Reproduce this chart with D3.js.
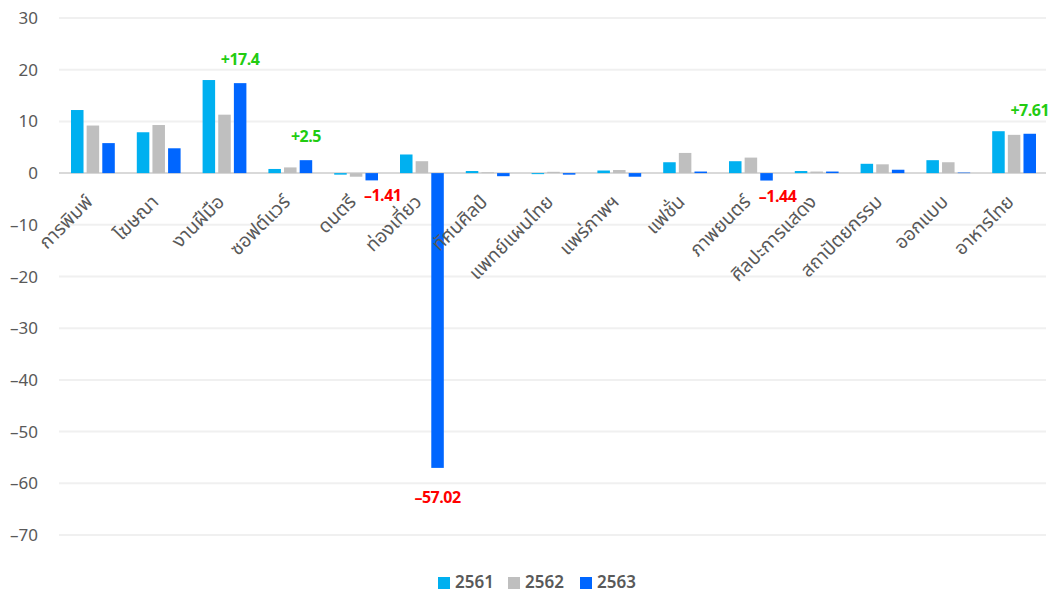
<!DOCTYPE html>
<html>
<meta charset="utf-8">
<script src="https://d3js.org/d3.v7.min.js"></script>
<head>
<style>
body { margin: 0; background: #fff; }
text { font-family: "Noto Sans Thai", "Noto Sans", "Open Sans", sans-serif; }
</style>
</head>
<body>
<div id="chart"></div>
<script>

// data
var categories = ["การพิมพ์", "โฆษณา", "งานฝีมือ", "ซอฟต์แวร์", "ดนตรี", "ท่องเที่ยว", "ทัศนศิลป์",
  "แพทย์แผนไทย", "แพร่ภาพฯ", "แฟชั่น", "ภาพยนตร์", "ศิลปะการแสดง", "สถาปัตยกรรม", "ออกแบบ", "อาหารไทย"];
var years = ["2561", "2562", "2563"];
var v2561 = [12.2, 7.9, 18.0, 0.8, -0.3, 3.6, 0.4, -0.2, 0.5, 2.1, 2.3, 0.4, 1.8, 2.5, 8.1];
var v2562 = [9.2, 9.3, 11.3, 1.1, -0.7, 2.3, 0.15, 0.25, 0.6, 3.9, 3.0, 0.3, 1.7, 2.1, 7.4];
var v2563 = [5.8, 4.8, 17.4, 2.5, -1.41, -57.02, -0.6, -0.3, -0.7, 0.3, -1.44, 0.3, 0.65, 0.1, 7.61];
var yTicks = [30, 20, 10, 0, -10, -20, -30, -40, -50, -60, -70];
// labelled values on the 2563 series
var noteIdx = [2, 3, 4, 5, 10, 14];

var series = [v2561, v2562, v2563];
var colors = ["#00b0f0", "#bfbfbf", "#0066ff"];

var width = 1052, height = 595;
var mLeft = 59, mRight = 1046, mTop = 18, mBottom = 535;

var svg = d3.select("#chart").append("svg")
  .attr("width", width)
  .attr("height", height);

var y = d3.scaleLinear().domain([30, -70]).range([mTop, mBottom]);
var x = d3.scaleBand().domain(categories).range([mLeft, mRight]);
var xs = d3.scaleBand().domain(years).range([12, x.bandwidth() - 10]).paddingInner(0.2);

// grid
svg.selectAll("line.grid")
  .data(yTicks)
  .enter()
  .append("line")
    .attr("x1", mLeft)
    .attr("x2", mRight)
    .attr("y1", function(d) { return y(d) })
    .attr("y2", function(d) { return y(d) })
    .attr("stroke", function(d) { return d == 0 ? "#d9d9d9" : "#f0f0f0" })
    .attr("stroke-width", 2);

svg.selectAll("text.ytick")
  .data(yTicks)
  .enter()
  .append("text")
    .attr("x", 38)
    .attr("y", function(d) { return y(d) + 6 })
    .attr("text-anchor", "end")
    .style("font-size", "17px")
    .style("fill", "#595959")
    .text(function(d) { return d < 0 ? "\u2013" + Math.abs(d) : d });

// bars
series.forEach(function(vals, s) {
  svg.selectAll("rect.s" + s)
    .data(vals)
    .enter()
    .append("rect")
      .attr("x", function(d, i) { return x(categories[i]) + xs(years[s]) })
      .attr("width", xs.bandwidth())
      .attr("y", function(d) { return y(Math.max(0, d)) })
      .attr("height", function(d) { return Math.abs(y(d) - y(0)) })
      .attr("fill", colors[s]);
});

// category labels
svg.selectAll("text.cat")
  .data(categories)
  .enter()
  .append("text")
    .attr("transform", function(d) {
      return "translate(" + (x(d) + x.bandwidth() / 2 + 2) + "," + 203 + ") rotate(-45)";
    })
    .attr("text-anchor", "end")
    .style("font-size", "19px")
    .style("fill", "#595959")
    .text(function(d) { return d });

// value notes
svg.selectAll("text.note")
  .data(noteIdx)
  .enter()
  .append("text")
    .attr("x", function(i) {
      var cx = x(categories[i]) + xs("2563") + xs.bandwidth() / 2;
      return (v2563[i] < 0 && v2563[i] > -5) ? cx + 11 : cx;
    })
    .attr("y", function(i) {
      var v = v2563[i];
      if (v >= 0) return y(v) - 18;
      return v < -5 ? y(v) + 35 : y(v) + 21;
    })
    .attr("text-anchor", "middle")
    .style("font-size", "16px")
    .style("font-weight", "bold")
    .style("letter-spacing", "-0.5px")
    .style("fill", function(i) { return v2563[i] >= 0 ? "#22cc11" : "#ff0000" })
    .text(function(i) { return v2563[i] >= 0 ? "+" + v2563[i] : "\u2013" + Math.abs(v2563[i]) });

// legend
var lx = [438, 508, 580];
years.forEach(function(yr, s) {
  svg.append("rect")
    .attr("x", lx[s])
    .attr("y", 577)
    .attr("width", 12)
    .attr("height", 12)
    .attr("fill", colors[s]);
  svg.append("text")
    .attr("x", lx[s] + 17)
    .attr("y", 588)
    .style("font-size", "17px")
    .style("fill", "#595959")
    .style("font-weight", "600")
    .text(yr);
});

</script>
</body>
</html>
